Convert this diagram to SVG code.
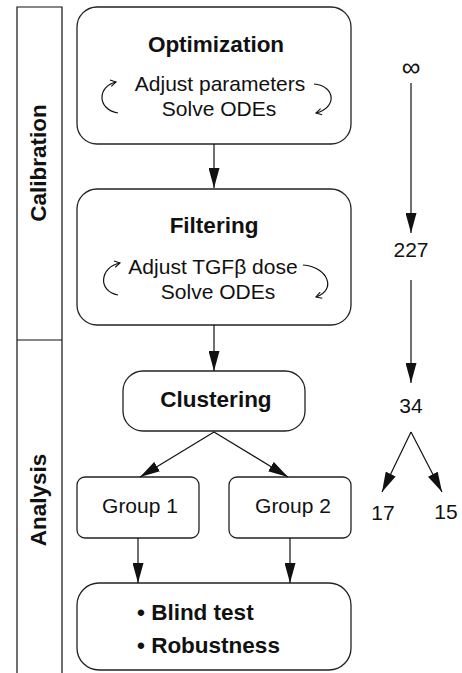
<svg xmlns="http://www.w3.org/2000/svg" width="462" height="673" viewBox="0 0 462 673">
<style>
.box{fill:#fff;stroke:#222;stroke-width:1.3}
.ln{fill:none;stroke:#111;stroke-width:1.2}
.cur{fill:none;stroke:#111;stroke-width:1.2}
text{font-family:"Liberation Sans",Arial,Helvetica,sans-serif;fill:#111}
.b{font-weight:bold;font-size:22.5px}
.r{font-size:21px}
.m{text-anchor:middle}
</style>
<defs>
<marker id="ah" markerUnits="userSpaceOnUse" viewBox="0 0 20 11" refX="20" refY="5.5" markerWidth="20" markerHeight="11" orient="auto">
<path d="M0,0 L20,5.5 L0,11 z" fill="#111"/>
</marker>
<marker id="ch" markerUnits="userSpaceOnUse" viewBox="0 0 8 8" refX="6.5" refY="4" markerWidth="8" markerHeight="8" orient="auto">
<path d="M1,0.8 L6.5,4 L1,7.2" fill="none" stroke="#111" stroke-width="1.1"/>
</marker>
</defs>
<g id="sidebar">
<path class="ln" d="M17,673 V7 H62 V673 M17,340 H62" stroke="#333"/>
<text class="b m" transform="translate(46,163) rotate(-90)">Calibration</text>
<text class="b m" transform="translate(46,500) rotate(-90)">Analysis</text>
</g>
<g id="optimization">
<rect class="box" x="77" y="7" width="274" height="137" rx="20"/>
<text class="b m" x="216" y="52">Optimization</text>
<text class="r m" x="220" y="91">Adjust parameters</text>
<text class="r m" x="219" y="116">Solve ODEs</text>
<path class="cur" d="M118,113 C96,109 98,86 116,82" marker-end="url(#ch)"/>
<path class="cur" d="M314,84 C336,86 337,108 316,113" marker-end="url(#ch)"/>
</g>
<g id="filtering">
<rect class="box" x="77" y="189" width="274" height="136" rx="20"/>
<text class="b m" x="214" y="233">Filtering</text>
<text class="r m" x="213" y="274">Adjust TGFβ dose</text>
<text class="r m" x="218" y="299">Solve ODEs</text>
<path class="cur" d="M118,295 C97,291 100,267 120,263" marker-end="url(#ch)"/>
<path class="cur" d="M303,265 C328,267 337,290 316,297" marker-end="url(#ch)"/>
</g>
<g id="clustering">
<rect class="box" x="123" y="371" width="182" height="60" rx="20"/>
<text class="b m" x="216" y="407">Clustering</text>
</g>
<g id="group1">
<rect class="box" x="77" y="477" width="122" height="61" rx="8"/>
<text class="r m" x="140" y="513">Group 1</text>
</g>
<g id="group2">
<rect class="box" x="229" y="477" width="122" height="61" rx="8"/>
<text class="r m" x="293" y="513">Group 2</text>
</g>
<g id="tests">
<rect class="box" x="77" y="583" width="274" height="87" rx="22"/>
<text class="b" x="137" y="620">• Blind test</text>
<text class="b" x="137" y="653">• Robustness</text>
</g>
<g id="counts">
<text class="m" x="411" y="76" font-size="26">∞</text>
<text class="r m" x="411" y="257">227</text>
<text class="r m" x="411" y="413">34</text>
<text class="r m" x="383" y="520">17</text>
<text class="r m" x="446" y="519">15</text>
</g>
<g id="connectors">
<line class="ln" x1="214" y1="144" x2="214" y2="188" marker-end="url(#ah)"/>
<line class="ln" x1="214" y1="325" x2="214" y2="371" marker-end="url(#ah)"/>
<line class="ln" x1="214" y1="432" x2="140" y2="477" marker-end="url(#ah)"/>
<line class="ln" x1="214" y1="432" x2="288" y2="477" marker-end="url(#ah)"/>
<line class="ln" x1="138" y1="538" x2="138" y2="583" marker-end="url(#ah)"/>
<line class="ln" x1="290" y1="538" x2="290" y2="583" marker-end="url(#ah)"/>
<line class="ln" x1="411" y1="83" x2="411" y2="233" marker-end="url(#ah)"/>
<line class="ln" x1="411" y1="280" x2="411" y2="383" marker-end="url(#ah)"/>
<line class="ln" x1="411" y1="432" x2="382" y2="492" marker-end="url(#ah)"/>
<line class="ln" x1="411" y1="432" x2="442" y2="492" marker-end="url(#ah)"/>
</g>
</svg>
